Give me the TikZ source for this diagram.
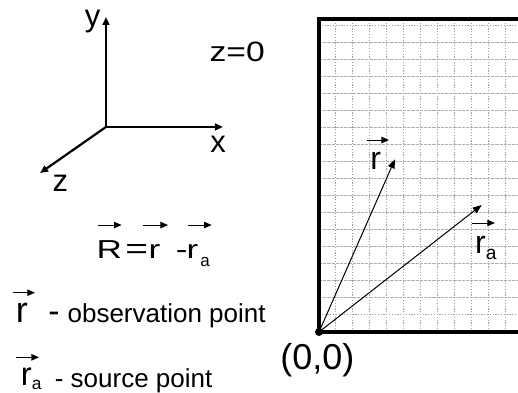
\documentclass[tikz,border=0pt]{standalone}
\usepackage{fontspec}
\setmainfont{Liberation Sans}
\usetikzlibrary{calc,arrows.meta}
\definecolor{GridGray}{RGB}{160,160,160}
\newcommand{\fsz}[1]{\fontsize{#1}{#1}\selectfont}
\newcommand{\subtxt}[3]{\raisebox{-#1}{\fsz{#2}#3}}
\tikzset{
	axis/.style={line width=1.1pt,-{Triangle[length=4pt,width=3.4pt]}},
	frame/.style={line width=1.8pt},
	gridv/.style={draw=GridGray,line width=0.5pt,dash pattern=on 0.6pt off 0.8pt},
	gridh/.style={draw=GridGray!85,line width=0.5pt,dash pattern=on 1.6pt off 0.5pt},
	vecline/.style={line width=0.5pt,-{Triangle[length=4.5pt,width=3.4pt]}},
	overarr/.style={line width=0.5pt,-{Triangle[length=3.8pt,width=3.2pt]}},
	lbl/.style={inner sep=0pt,anchor=base west},
	axlbl/.style={inner sep=0pt,font=\fsz{15.5}},
	ftxt/.style={lbl,font=\fsz{13}},
}

\begin{document}
\begin{tikzpicture}[x=8.5pt,y=8.5pt]
	\useasboundingbox (-18.765,-3.588) rectangle (11.706,19.529);
	% grid in the frame
	\foreach \i in {1,...,11} \draw[gridv] (\i,0) -- (\i,18.41);
	\foreach \j in {2,...,17} \draw[gridh] (0,\j) -- (12,\j);
	\foreach \j in {1,18} \draw[gridv] (0,\j) -- (12,\j);
	\coordinate (O) at (0,0);
	\coordinate (tl) at (0,18.41);
	\draw[frame] (12,18.41) -- (tl) -- (O) -- (12,0);
	\fill (O) circle (2pt);
	\node[inner sep=0pt,font=\fsz{18}] (orig) at (-0.09,-1.65) {(0,0)};
	% position vectors
	\coordinate (rtip) at (4.47,10.16);
	\coordinate (ratip) at (9.57,7.47);
	\draw[vecline] (O) -- (rtip);
	\draw[vecline] (O) -- (ratip);
	\node[lbl,font=\fsz{16}] (rlab) at (3.0,9.57) {r};
	\draw[overarr] ($(rlab.base west)+(-0.19,1.72)$) -- ++(1.31,0);
	\node[lbl,font=\fsz{16}] (ralab) at (9.16,4.63) {r\subtxt{3.3pt}{9.6}{a}};
	\draw[overarr] ($(ralab.base west)+(-0.18,1.78)$) -- ++(1.37,0);
	% axes
	\coordinate (ax) at (-12.53,12.06);
	\coordinate (axY) at (-12.53,18.53);
	\coordinate (axX) at (-5.65,12.06);
	\coordinate (axZ) at (-16.41,9.35);
	\draw[axis] (ax) -- (axY);
	\draw[axis] (ax) -- (axX);
	\draw[axis] (ax) -- (axZ);
	\node[axlbl] (ylab) at (-13.32,18.29) {y};
	\node[axlbl] (xlab) at (-5.94,11.02) {x};
	\node[axlbl] (zlab) at (-15.21,8.75) {z};
	\node[inner sep=0pt,font=\fsz{14}] (zzero) at (-4.81,16.49) {\scalebox{1.2}[1]{z=0}};
	% formula
	\node[ftxt] (fR) at (-13.1,4.33) {\scalebox{1.35}[1]{R}};
	\node[ftxt] (feq) at (-11.41,4.33) {\scalebox{1.5}[1.1]{=}};
	\node[ftxt] (fr) at (-10.04,4.33) {\scalebox{1.35}[1]{r}};
	\node[ftxt] (fmin) at (-8.44,4.33) {\scalebox{1.35}[1]{-}};
	\node[ftxt] (fra) at (-7.81,4.33) {\scalebox{1.35}[1]{r}\kern1pt\subtxt{4pt}{8.5}{a}};
	\draw[overarr] ($(fR.base west)+(0.1,1.96)$) -- ++(1.39,0);
	\draw[overarr] ($(fr.base west)+(-0.31,1.96)$) -- ++(1.47,0);
	\draw[overarr] ($(fra.base west)+(0.1,1.96)$) -- ++(1.4,0);
	% legend
	\node[lbl,font=\fsz{18}] (lgr) at (-17.85,0.53) {r};
	\node[lbl,font=\fsz{17}] (lgdash) at (-15.94,0.53) {-};
	\node[lbl,font=\fsz{13}] (lgobs) at (-14.81,0.53) {observation point};
	\draw[overarr] ($(lgr.base west)+(-0.15,1.78)$) -- ++(1.29,0);
	\node[lbl,font=\fsz{16.4}] (lgra) at (-17.56,-3.15) {r\subtxt{2pt}{8.7}{a}};
	\node[lbl,font=\fsz{13}] (lgsrc) at (-15.56,-3.24) {- source point};
	\draw[overarr] ($(lgra.base west)+(-0.26,1.66)$) -- ++(1.35,0);
\end{tikzpicture}
\end{document}
